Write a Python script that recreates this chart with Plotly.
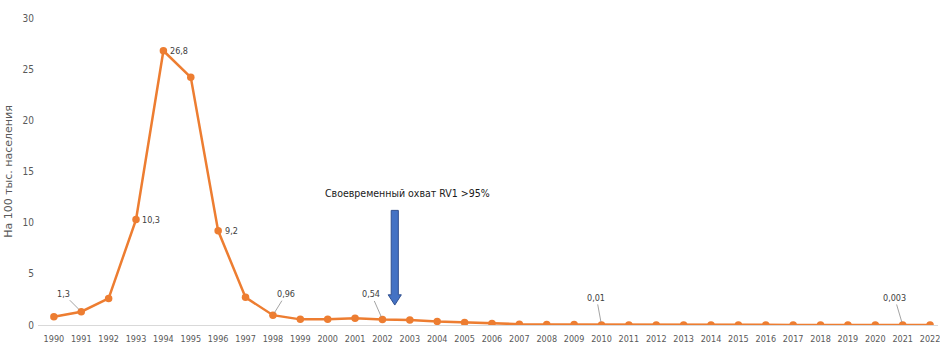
import plotly.graph_objects as go

years = list(range(1990, 2023))
values = [0.8, 1.3, 2.6, 10.3, 26.8, 24.2, 9.2, 2.7, 0.96, 0.55, 0.55, 0.65, 0.54, 0.5,
          0.35, 0.25, 0.15, 0.08, 0.06, 0.05, 0.01, 0.01, 0.01, 0.01, 0.01, 0.01, 0.01,
          0.01, 0.01, 0.01, 0.01, 0.003, 0.002]
tick_labels = [str(y) for y in years]
y_ticks = [0, 5, 10, 15, 20, 25, 30]

# labelled points: year, text, pixel offsets, leader line
labels = [
    (1991, "1,3", -18, -18, True),
    (1993, "10,3", 15, 0, False),
    (1994, "26,8", 16, 0, False),
    (1996, "9,2", 13, 0, False),
    (1998, "0,96", 13, -21, True),
    (2002, "0,54", -11, -25, True),
    (2010, "0,01", -5, -27, True),
    (2021, "0,003", -8, -27, True),
]

NARROW = "DejaVu Sans Condensed, Liberation Sans Narrow, Arial Narrow, sans-serif"
orange = "#ED7D31"
fig = go.Figure()
fig.add_trace(go.Scatter(
    x=years, y=values, mode="lines+markers",
    line=dict(color=orange, width=2.5),
    marker=dict(color=orange, size=7.5),
    hoverinfo="x+y",
))

lab_font = dict(family=NARROW, size=9, color="#404040")
for yr, txt, dx, dy, leader in labels:
    v = values[years.index(yr)]
    if leader:
        fig.add_annotation(x=yr, y=v, text=txt, showarrow=True, arrowhead=0,
                           arrowwidth=0.8, arrowcolor="#8c8c8c", ax=dx, ay=dy,
                           standoff=3, font=lab_font)
    else:
        fig.add_annotation(x=yr, y=v, text=txt, showarrow=False, xshift=dx,
                           yshift=dy, font=lab_font)

# block arrow
ax_c = 2002.45
sw, hw = 0.13, 0.24
y_top, y_head, y_tip = 11.2, 2.95, 1.95
path = (f"M {ax_c-sw},{y_top} L {ax_c+sw},{y_top} L {ax_c+sw},{y_head} "
        f"L {ax_c+hw},{y_head} L {ax_c},{y_tip} L {ax_c-hw},{y_head} "
        f"L {ax_c-sw},{y_head} Z")
fig.add_shape(type="path", path=path, xref="x", yref="y",
              fillcolor="#4472C4", line=dict(color="#2F4F8F", width=1))
fig.add_annotation(x=2002.9, y=12.9, text="Своевременный охват RV1 >95%",
                   showarrow=False,
                   font=dict(family=NARROW, size=10.5, color="#1a1a1a"))

fig.update_layout(
    width=940, height=347,
    margin=dict(l=38, r=0, t=18, b=22),
    paper_bgcolor="white", plot_bgcolor="white",
    showlegend=False,
    xaxis=dict(range=[1989.42, 2022.29], tickvals=years, ticktext=tick_labels,
               showgrid=False, zeroline=False, showline=False, ticks="",
               ticklabeloverflow="allow", ticklabelstandoff=7,
               tickfont=dict(family=NARROW, size=9, color="#595959")),
    yaxis=dict(range=[0, 30], tickvals=y_ticks, showgrid=False,
               zeroline=True, zerolinecolor="#d9d9d9", zerolinewidth=1,
               showline=False, ticks="", ticklabelstandoff=3,
               tickfont=dict(family=NARROW, size=10, color="#595959"),
               title=dict(text="На 100 тыс. населения", standoff=7,
                          font=dict(family="DejaVu Sans, sans-serif",
                                    size=11, color="#595959"))),
)

fig.write_html("out.html")
